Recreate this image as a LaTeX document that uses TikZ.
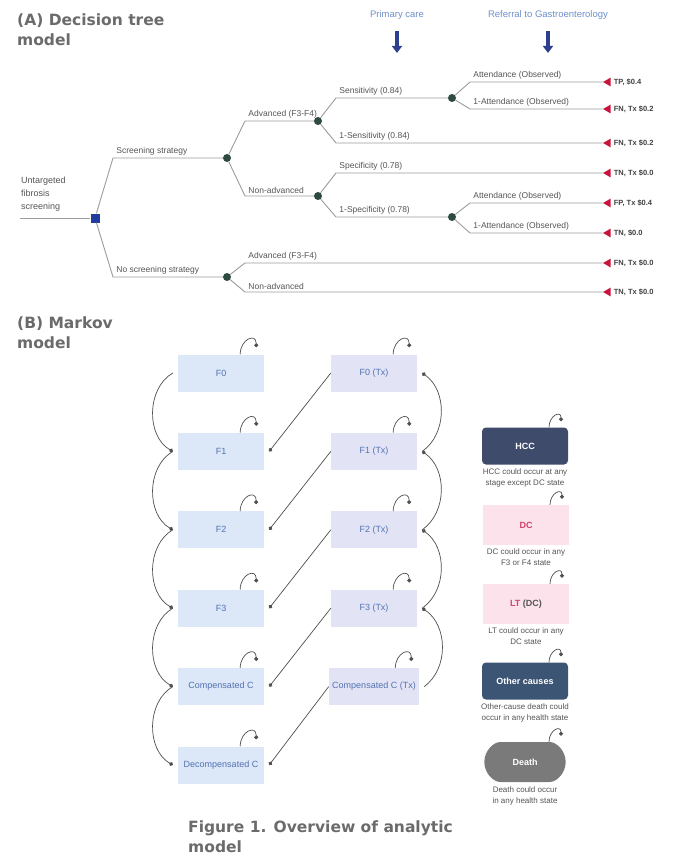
\documentclass[tikz,border=0pt]{standalone}
\usepackage{fontspec}
\setmainfont{Liberation Sans}
\newfontfamily\headfont{DejaVu Sans}
\usepackage{xcolor}
\definecolor{TreeGrey}{HTML}{9C9C9C}
\definecolor{LabelInk}{HTML}{555555}
\definecolor{TitleGrey}{HTML}{6B6B6B}
\definecolor{RootBlue}{HTML}{1F3C9E}
\definecolor{ChanceGreen}{HTML}{2F4A3E}
\definecolor{LeafRed}{HTML}{C8143C}
\definecolor{HeadBlue}{HTML}{6F8FCB}
\definecolor{ArrowNavy}{HTML}{2E3F8F}
\definecolor{StateFill}{HTML}{DCE7F7}
\definecolor{TxFill}{HTML}{E2E4F6}
\definecolor{StateInk}{HTML}{5272B3}
\definecolor{LinkInk}{HTML}{4F4F4F}
\definecolor{HccFill}{HTML}{3F4B6B}
\definecolor{DcFill}{HTML}{FCE3EB}
\definecolor{DcInk}{HTML}{D0436A}
\definecolor{OtherFill}{HTML}{3C5575}
\definecolor{DeathFill}{HTML}{7A7A7A}
\usepackage{tikz}
\usetikzlibrary{arrows.meta,positioning,calc,shapes.geometric,shapes.misc}

\begin{document}
\begin{tikzpicture}[x=1pt, y=1pt,
  ttl/.style={font=\headfont\bfseries\fontsize{15.5}{19.5}\selectfont, text=TitleGrey,
              align=left, anchor=north west, inner sep=0pt},
  hdr/.style={font=\fontsize{9.5}{11}\selectfont, text=HeadBlue},
  hdrarrow/.style={-{Triangle[length=7pt, width=10pt]}, line width=4pt, ArrowNavy},
  branch/.style={TreeGrey, line width=0.9pt},
  lab/.style={font=\fontsize{8.5}{10}\selectfont, text=LabelInk, anchor=south west,
              inner sep=1pt, xshift=2pt, yshift=1pt},
  decision/.style={rectangle, fill=RootBlue, minimum size=9pt, inner sep=0pt},
  chance/.style={circle, fill=ChanceGreen, minimum size=8pt, inner sep=0pt},
  leaf/.style={regular polygon, regular polygon sides=3, shape border rotate=90,
               fill=LeafRed, minimum size=10pt, inner sep=0pt},
  outc/.style={font=\bfseries\fontsize{7.5}{9}\selectfont, text=black!75, inner sep=1pt},
  stbox/.style={rectangle, fill=StateFill, minimum width=86pt, minimum height=37pt,
                font=\fontsize{9}{11}\selectfont, text=StateInk},
  txbox/.style={stbox, fill=TxFill},
  link/.style={LinkInk, line width=0.7pt, -{Circle[length=4pt]}},
  keybox/.style={rectangle, rounded corners=4pt, minimum width=86pt, minimum height=37pt,
                 font=\bfseries\fontsize{9}{11}\selectfont, text=white},
  keynote/.style={font=\fontsize{8}{11}\selectfont, text=LabelInk, align=center, inner sep=1pt}
]
  \fill[white] (0,0) rectangle (678,-867);
  \useasboundingbox (0,0) rectangle (678,-867);

  % (A) decision tree
  \node[ttl] (titleA) at (17,-14) {(A) Decision tree\\model};
  \node[hdr] (pc) at (397,-15) {Primary care};
  \node[hdr] (gi) at (548,-15) {Referral to Gastroenterology};
  \draw[hdrarrow] ([yshift=-8pt]pc.south) -- ++(0,-22);
  \draw[hdrarrow] ([yshift=-8pt]gi.south) -- ++(0,-22);

  \coordinate (entry) at (20,-218);
  \node[font=\fontsize{9}{13}\selectfont, text=LabelInk, align=left, anchor=south west,
        inner sep=1pt] (rootlbl) at (20,-213) {Untargeted\\fibrosis\\screening};
  \node[decision] (root) at (95,-218) {};
  \node[chance] (scr) at (227,-158) {};
  \node[chance] (noscr) at (227,-277) {};
  \node[chance] (adv) at (318,-121) {};
  \node[chance] (nonadv) at (318,-196) {};
  \node[chance] (att1) at (452,-98) {};
  \node[chance] (att2) at (452,-217) {};
  \node[leaf] (o1) at (608,-82) {};
  \node[leaf] (o2) at (608,-109) {};
  \node[leaf] (o3) at (608,-143) {};
  \node[leaf] (o4) at (608,-173) {};
  \node[leaf] (o5) at (608,-203) {};
  \node[leaf] (o6) at (608,-233) {};
  \node[leaf] (o7) at (608,-263) {};
  \node[leaf] (o8) at (608,-292) {};

  \draw[branch] (entry) -- (root);
  \draw[branch] (root) -- ($(root |- scr)+(18,0)$) -- node[lab, pos=0] {Screening strategy} (scr);
  \draw[branch] (root) -- ($(root |- noscr)+(18,0)$) -- node[lab, pos=0] {No screening strategy} (noscr);
  \draw[branch] (scr) -- ($(scr |- adv)+(18,0)$) -- node[lab, pos=0] {Advanced (F3-F4)} (adv);
  \draw[branch] (scr) -- ($(scr |- nonadv)+(18,0)$) -- node[lab, pos=0] {Non-advanced} (nonadv);
  \draw[branch] (adv) -- ($(adv |- att1)+(18,0)$) -- node[lab, pos=0] {Sensitivity (0.84)} (att1);
  \draw[branch] (adv) -- ($(adv |- o3)+(18,0)$) -- node[lab, pos=0] {1-Sensitivity (0.84)} (o3);
  \draw[branch] (att1) -- ($(att1 |- o1)+(18,0)$) -- node[lab, pos=0] {Attendance (Observed)} (o1);
  \draw[branch] (att1) -- ($(att1 |- o2)+(18,0)$) -- node[lab, pos=0] {1-Attendance (Observed)} (o2);
  \draw[branch] (nonadv) -- ($(nonadv |- o4)+(18,0)$) -- node[lab, pos=0] {Specificity (0.78)} (o4);
  \draw[branch] (nonadv) -- ($(nonadv |- att2)+(18,0)$) -- node[lab, pos=0] {1-Specificity (0.78)} (att2);
  \draw[branch] (att2) -- ($(att2 |- o5)+(18,0)$) -- node[lab, pos=0] {Attendance (Observed)} (o5);
  \draw[branch] (att2) -- ($(att2 |- o6)+(18,0)$) -- node[lab, pos=0] {1-Attendance (Observed)} (o6);
  \draw[branch] (noscr) -- ($(noscr |- o7)+(18,0)$) -- node[lab, pos=0] {Advanced (F3-F4)} (o7);
  \draw[branch] (noscr) -- ($(noscr |- o8)+(18,0)$) -- node[lab, pos=0] {Non-advanced} (o8);

  \node[outc, right=2pt of o1] (v1) {TP, \$0.4};
  \node[outc, right=2pt of o2] (v2) {FN, Tx \$0.2};
  \node[outc, right=2pt of o3] (v3) {FN, Tx \$0.2};
  \node[outc, right=2pt of o4] (v4) {TN, Tx \$0.0};
  \node[outc, right=2pt of o5] (v5) {FP, Tx \$0.4};
  \node[outc, right=2pt of o6] (v6) {TN, \$0.0};
  \node[outc, right=2pt of o7] (v7) {FN, Tx \$0.0};
  \node[outc, right=2pt of o8] (v8) {TN, Tx \$0.0};

  % (B) Markov model
  \node[ttl] (titleB) at (17,-317) {(B) Markov\\model};
  \node[stbox] (f0) at (221,-373) {F0};
  \node[stbox, below=41pt of f0] (f1) {F1};
  \node[stbox, below=41pt of f1] (f2) {F2};
  \node[stbox, below=41pt of f2] (f3) {F3};
  \node[stbox, below=41pt of f3] (cc) {Compensated C};
  \node[stbox, below=41pt of cc] (dc) {Decompensated C};
  \node[txbox] (f0tx) at (374,-373) {F0 (Tx)};
  \node[txbox, below=41pt of f0tx] (f1tx) {F1 (Tx)};
  \node[txbox, below=41pt of f1tx] (f2tx) {F2 (Tx)};
  \node[txbox, below=41pt of f2tx] (f3tx) {F3 (Tx)};
  \node[txbox, below=41pt of f3tx] (cctx) {Compensated C (Tx)};

  \foreach \a/\b in {f0/f1, f1/f2, f2/f3, f3/cc, cc/dc}
    \draw[link] ([xshift=-5pt]\a.west) to[bend right=60] ([xshift=-5pt]\b.west);
  \foreach \a/\b in {f1tx/f0tx, f2tx/f1tx, f3tx/f2tx, cctx/f3tx}
    \draw[link] ([xshift=5pt]\a.east) to[bend right=55] ([xshift=5pt]\b.east);
  \foreach \a/\b in {f0tx/f1, f1tx/f2, f2tx/f3, f3tx/cc, cctx/dc}
    \draw[link] (\a.west) -- ([xshift=5pt]\b.east);
  \foreach \s in {f0, f1, f2, f3, cc, dc, f0tx, f1tx, f2tx, f3tx, cctx}
    \draw[link] ([xshift=-24pt]\s.north east) to[out=90, in=90, looseness=2.2]
      ([xshift=-8pt, yshift=7pt]\s.north east);

  % key to the absorbing states
  \node[keybox, fill=HccFill] (hcc) at (525,-446) {HCC};
  \node[keynote, below=3pt of hcc] (hccnote) {HCC could occur at any\\stage except DC state};
  \node[keybox, fill=DcFill, text=DcInk, rounded corners=0pt, minimum height=40pt]
    (dcl) at (526,-525) {DC};
  \node[keynote, below=2pt of dcl] (dcnote) {DC could occur in any\\F3 or F4 state};
  \node[keybox, fill=DcFill, text=DcInk, rounded corners=0pt, minimum height=40pt]
    (ltl) at (526,-604) {LT \textcolor{LabelInk}{(DC)}};
  \node[keynote, below=2pt of ltl] (ltnote) {LT could occur in any\\DC state};
  \node[keybox, fill=OtherFill] (oth) at (525,-681) {Other causes};
  \node[keynote, below=3pt of oth] (othnote) {Other-cause death could\\occur in any health state};
  \node[keybox, rounded rectangle, fill=DeathFill, minimum width=88pt, minimum height=40pt]
    (death) at (525,-762) {Death};
  \node[keynote, below=3pt of death] (deathnote) {Death could occur\\in any health state};
  \foreach \s in {hcc, dcl, ltl, oth, death}
    \draw[link] ([xshift=24pt]\s.north) to[out=90, in=90, looseness=2.2]
      ([xshift=36pt, yshift=6pt]\s.north);

  \node[ttl] (caption) at (188,-821) {Figure 1. Overview of analytic\\model};
\end{tikzpicture}
\end{document}
